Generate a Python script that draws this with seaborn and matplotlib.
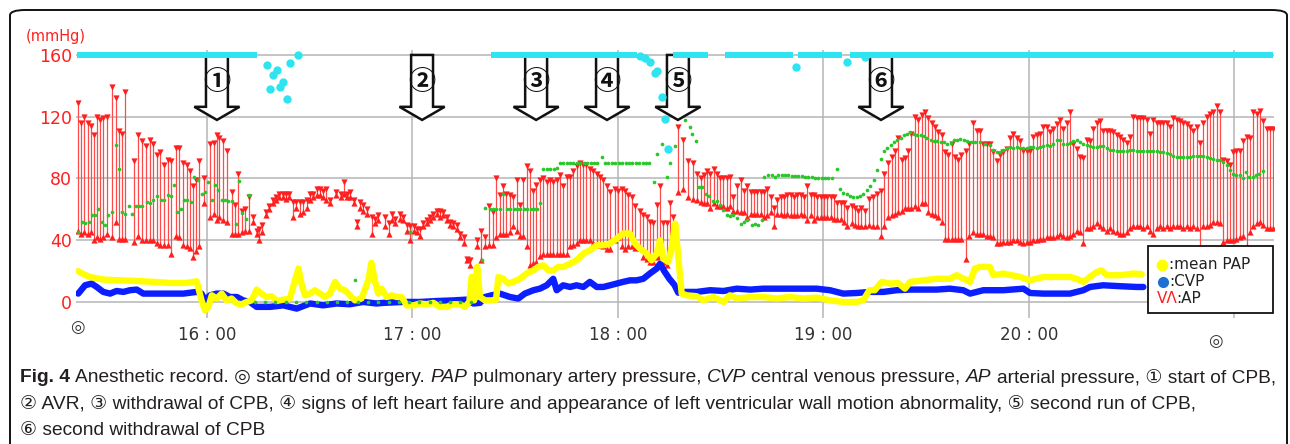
import numpy as np
import pandas as pd
import seaborn as sns
import matplotlib.pyplot as plt
from matplotlib.patches import Polygon, Rectangle, FancyBboxPatch
from matplotlib.lines import Line2D

# time = minutes after 15:00, pressures in mmHg

# AP (arterial pressure): systolic / diastolic
ap_time = [22.4, 23.2, 24.2, 25.2, 26.1, 27.0, 28.0, 28.9, 29.7, 30.7, 32.2, 33.3, 34.3, 35.3, 36.1,
           38.8, 39.9, 40.9, 42.2, 43.4, 44.3, 45.3, 46.3, 47.5, 48.5, 49.5, 50.9, 51.9, 53.1, 54.1, 55.0, 56.0, 56.8, 57.8, 59.0,
           61.0, 62.0, 62.8, 63.6, 64.8, 65.7, 67.2, 68.2, 69.1, 70.1, 71.1, 72.3, 73.3,
           74.5, 75.3, 76.2, 77.2, 78.2, 79.2, 80.1, 81.1, 82.1, 83.0, 84.0, 85.0, 86.0, 87.1, 88.1, 89.1, 90.1, 91.0, 92.0, 93.0,
           93.9, 94.7, 95.9, 97.8, 99.0, 100.0, 100.8, 101.7, 102.9, 103.9, 104.6, 105.6, 106.6, 108.1, 109.0, 110.0,
           112.0, 113.0, 113.9, 114.9, 116.4, 117.3, 118.3, 119.3, 120.3, 121.2, 122.2, 123.2, 124.1, 125.1, 126.1, 127.1,
           128.0, 129.0, 130.0, 131.0, 131.9, 132.9, 133.9, 134.9, 136.0, 136.8,
           138.9, 140.0, 141.2, 142.4, 143.4, 144.4, 145.5, 146.3, 147.3, 148.5, 149.4, 150.4, 151.4, 152.4, 153.3, 154.3,
           155.3, 156.2, 157.2, 158.2, 159.2, 160.1, 161.1, 162.1, 163.1, 164.0, 165.0, 166.0, 167.0, 167.9, 168.9, 169.9,
           170.8, 171.8, 172.8, 173.8, 174.7, 175.7, 176.7, 177.7, 179.1, 180.1, 181.1, 182.0, 183.0, 184.0, 185.0, 186.4,
           187.4, 188.4, 189.3, 190.3, 191.3, 192.3, 193.2, 194.2, 195.2, 196.1,
           197.6, 198.9, 200.3, 201.8, 203.0, 204.1, 205.1, 206.1, 206.9, 207.9, 208.8, 209.8, 210.8, 211.7, 212.7, 213.7,
           214.7, 215.8, 216.8, 217.8, 218.7, 219.7, 220.7, 221.7, 222.6, 223.6, 224.6, 225.6, 226.5, 227.5, 228.5, 229.4,
           230.4, 231.4, 232.4, 233.3, 234.3, 235.3, 236.3, 237.2, 238.2, 239.2, 240.2, 241.1, 242.1, 243.1, 244.0, 245.0,
           246.0, 247.0, 248.2, 249.2, 250.2, 251.1, 252.1, 253.4, 254.4, 255.5, 256.7, 257.8, 258.9, 259.9, 260.9, 261.8,
           262.8, 263.8, 264.8, 265.7, 266.7, 267.7, 268.7, 269.6, 270.6, 271.6, 272.6, 273.5, 274.5, 275.5, 276.4, 277.4,
           278.4, 279.4, 280.3, 281.5, 282.5,
           283.8, 284.7, 285.7, 286.7, 287.7, 288.6, 289.6, 290.6, 291.6, 292.5, 293.5, 294.5, 295.4, 296.4, 297.4, 298.4,
           299.3, 300.3, 301.3, 302.3, 303.2, 304.2, 305.2, 306.2, 307.1, 308.1, 309.1, 310.0, 311.0, 312.0, 313.0, 313.9,
           314.9, 315.9, 316.9, 317.8, 318.8, 319.8, 320.7, 321.7, 322.7, 323.7, 324.6, 325.6, 326.6, 327.6, 328.5, 329.5,
           330.5, 331.5, 332.4, 333.4, 334.4, 335.3, 336.3, 337.3, 338.3, 339.2, 340.2, 341.2, 342.2, 343.1, 344.1, 345.1,
           346.1, 347.0, 348.0, 349.0, 350.0, 350.9, 351.9, 352.8, 353.8, 354.8, 355.8, 356.7, 357.7, 358.7, 359.7, 360.6,
           361.6, 362.6, 363.6, 364.5, 365.5, 366.5, 367.5, 368.4, 369.4, 370.4, 371.3]
ap_sys = [129, 116, 120, 116, 114, 108, 120, 118, 119, 120, 139, 132, 111, 109, 136,
          91, 108, 104, 101, 105, 102, 95, 97, 89, 92, 91, 100, 100, 90, 89, 85, 75, 79, 91, 80,
          102, 103, 108, 106, 104, 98, 71, 63, 83, 59, 60, 68, 55,
          46, 47, 50, 58, 62, 66, 68, 70, 70, 70, 70, 65, 65, 65, 65, 66, 70, 70, 73, 73,
          72, 73, 66, 71, 70, 78, 70, 71, 66, 52, 65, 63, 60, 55, 54, 56,
          55, 51, 57, 54, 57, 55, 50, 49, 49, 47, 47, 51, 53, 55, 57, 59,
          59, 58, 55, 52, 51, 50, 44, 42, 28, 27,
          40, 46, 42, 62, 58, 80, 69, 75, 70, 69, 68, 79, 63, 79, 88, 85,
          72, 76, 79, 80, 78, 79, 78, 79, 82, 75, 81, 81, 85, 88, 90, 89,
          89, 86, 85, 83, 81, 79, 75, 71, 73, 72, 73, 72, 69, 68, 62, 59,
          56, 55, 52, 51, 63, 75, 51, 51, 64, 55,
          113, 105, 91, 90, 83, 80, 82, 85, 83, 86, 83, 80, 80, 80, 81, 68,
          75, 79, 72, 75, 71, 71, 71, 71, 71, 73, 68, 61, 66, 68, 68, 69,
          69, 68, 69, 69, 68, 75, 69, 69, 68, 68, 68, 68, 68, 68, 64, 64,
          64, 61, 62, 61, 59, 61, 59, 67, 68, 70, 72, 83, 90, 94, 98, 106,
          92, 93, 98, 109, 120, 118, 121, 123, 119, 116, 113, 110, 108, 97, 95, 102,
          94, 92, 95, 98, 102,
          116, 111, 111, 102, 102, 102, 97, 91, 95, 97, 99, 106, 109, 106, 104, 98,
          98, 98, 107, 108, 109, 113, 113, 110, 112, 115, 118, 112, 116, 123, 102, 99,
          94, 93, 105, 104, 112, 116, 117, 111, 111, 111, 110, 108, 107, 105, 103, 107,
          120, 119, 119, 119, 118, 109, 118, 116, 116, 116, 116, 113, 119, 118, 117, 116,
          115, 113, 111, 113, 103, 116, 120, 122, 123, 127, 123, 92, 91, 89, 97, 98,
          98, 104, 107, 106, 123, 122, 124, 117, 112, 112, 112]
ap_dia = [46, 44, 45, 44, 45, 40, 42, 41, 42, 44, 42, 52, 41, 41, 41,
          39, 43, 40, 40, 40, 40, 38, 37, 37, 37, 31, 43, 42, 37, 36, 35, 29, 33, 36, 64,
          55, 57, 53, 55, 53, 52, 44, 44, 44, 45, 46, 46, 52,
          44, 40, 45, 56, 60, 64, 66, 68, 68, 67, 68, 55, 61, 57, 58, 61, 66, 68, 69, 69,
          68, 66, 64, 69, 68, 70, 68, 68, 64, 49, 61, 59, 57, 44, 51, 53,
          49, 44, 53, 51, 54, 53, 46, 40, 46, 45, 43, 49, 51, 53, 55, 57,
          55, 56, 53, 50, 49, 47, 42, 38, 27, 24,
          36, 27, 36, 37, 37, 42, 44, 44, 44, 45, 49, 46, 43, 43, 36, 24,
          25, 26, 30, 31, 31, 31, 31, 31, 31, 31, 31, 36, 37, 38, 40, 40,
          40, 40, 38, 38, 37, 36, 34, 34, 40, 42, 36, 34, 36, 36, 35, 35,
          29, 28, 26, 26, 29, 30, 26, 24, 34, 36,
          71, 73, 68, 67, 66, 65, 64, 64, 61, 64, 62, 62, 62, 61, 62, 59,
          59, 58, 58, 55, 57, 57, 57, 57, 55, 56, 58, 49, 57, 57, 56, 57,
          56, 56, 56, 57, 56, 53, 56, 53, 55, 55, 55, 55, 55, 54, 54, 54,
          52, 49, 51, 50, 49, 49, 49, 50, 49, 49, 43, 49, 55, 56, 57, 58,
          59, 61, 61, 61, 62, 61, 64, 64, 58, 57, 56, 55, 52, 41, 41, 41,
          41, 41, 41, 28, 43,
          45, 44, 44, 44, 43, 43, 42, 38, 38, 39, 39, 39, 40, 40, 39, 38,
          39, 39, 40, 40, 41, 41, 42, 42, 42, 43, 44, 43, 42, 43, 44, 46,
          45, 38, 48, 48, 49, 51, 49, 48, 46, 48, 46, 45, 44, 44, 45, 48,
          49, 49, 49, 48, 49, 46, 44, 48, 49, 48, 49, 48, 49, 49, 49, 48,
          49, 48, 49, 48, 31, 49, 49, 50, 52, 52, 51, 39, 40, 40, 40, 41,
          42, 43, 36, 45, 49, 51, 52, 50, 48, 48, 48]

# green dots
gr_time = [22.4, 23.4, 24.4, 25.4, 26.3, 27.3, 28.3, 29.2, 30.2, 31.2, 32.2, 33.3, 34.3, 35.3, 36.2, 37.2,
           38.2, 39.2, 40.1, 41.1, 42.4, 43.4, 44.3, 45.3, 46.5, 47.5, 48.5, 49.5, 50.4, 51.3, 52.4, 53.4,
           54.3, 55.3, 56.3, 57.3, 58.4, 59.4, 60.4, 61.4, 62.3, 63.3, 64.3, 65.2, 66.2, 67.2, 68.4, 69.3,
           70.3, 71.3, 72.2,
           74, 77, 80, 83, 86, 89, 92, 95, 98, 101, 103.2, 104, 107, 110, 113, 116, 119, 119.3, 122, 125,
           128, 131, 134, 137,
           140.2, 141.2, 142.5, 143.5, 144.5, 145.5, 146.5, 147.5, 148.5, 149.5, 150.5, 151.5, 152.5, 153.5,
           154.5, 155.5, 156.5, 157.2, 158.2, 159.2, 160.2, 161.2, 162.1, 163.0, 164.0, 165.0, 166.0, 167.0,
           168.0, 169.0, 170.0, 171.0, 172.0, 173.0, 174.0, 175.4, 176.2, 177.2, 178.2, 179.2, 180.2, 181.2,
           182.2, 183.2, 184.2, 185.2, 186.2, 187.2, 188.2, 189.2, 190.5, 191.5, 192.8, 194.2, 195.2, 196.6,
           199.6, 201.1, 201.6, 202.8, 203.8, 204.5, 205.7, 206.7, 207.8, 208.8, 209.8, 210.8, 211.7, 212.7,
           213.7, 214.7, 215.8, 216.8, 217.8, 219.0, 220.0, 221.0, 222.0, 222.7, 223.9, 224.9, 225.9, 226.8,
           227.8, 228.8, 229.7, 230.7, 231.7, 232.7, 233.6, 234.6, 235.6, 236.6, 237.5, 238.5, 239.5, 240.4,
           241.4, 242.4, 243.9, 244.8, 245.8, 246.8, 247.7, 248.7, 249.7, 250.7, 251.6, 252.6, 253.6, 254.7,
           255.7, 256.7, 257.7, 258.6, 259.6, 260.6, 261.6, 262.5, 263.5, 264.5, 265.4, 266.4, 267.4, 268.4,
           269.3, 270.3, 271.3, 272.3, 273.2, 274.2, 275.2, 276.2, 277.1, 278.1, 279.1, 280.0, 281.0, 282.0,
           283.0, 284.2, 285.7, 287.2, 288.6, 289.6, 290.6, 291.6, 292.5, 293.5, 294.5, 295.4, 296.4, 297.4,
           298.4, 299.3, 300.3, 301.3, 302.3, 303.2, 304.2, 305.2, 306.2, 307.1, 308.1, 309.1, 310.0, 311.0,
           312.0, 313.0, 313.9, 314.9, 315.9, 316.9, 317.8, 318.8, 319.8, 320.7, 321.7, 322.7, 323.7, 324.6,
           325.6, 326.6, 327.6, 328.5, 329.5, 330.5, 331.5, 332.4, 333.4, 334.4, 335.3, 336.3, 337.3, 338.3,
           339.2, 340.2, 341.2, 342.2, 343.1, 344.1, 345.1, 346.1, 347.0, 348.0, 349.0, 350.0, 350.9, 351.9,
           352.8, 353.8, 354.8, 355.8, 356.7, 357.7, 358.7, 359.7, 360.6, 361.6, 362.4, 363.4, 364.3, 365.3,
           366.3, 367.3, 368.2]
gr_val = [45, 52, 51, 52, 56, 56, 60.5, 52, 50, 56, 58, 101.5, 86.4, 58, 57, 62,
          57, 62, 62, 62, 65, 64, 66, 68.5, 66, 66, 69, 68.7, 75.6, 58, 60.5, 66,
          66, 65, 81, 79, 70, 71, 77.8, 66, 75.6, 72.4, 66, 66, 65.4, 65.4, 50.3, 78.4,
          57.7, 54, 69,
          0, 0, 0, 0, 0, 0, 0, 0, 0, 0, 14, 0, 0, 0, 0, 0, 0, 45.4, 0, 0,
          0, 0, 0, 0,
          27, 61, 60, 60, 60, 60, 70, 60, 60, 60, 60, 60, 60, 60,
          60, 60, 60, 64, 86, 86, 86, 86, 87, 90, 90, 90, 90, 90,
          90, 90, 90, 90, 90, 90, 90, 94, 90, 90, 90, 90, 90, 90,
          90, 90, 90, 90, 90, 90, 90, 90, 78, 96, 102, 81, 90, 101,
          118, 113, 109, 104, 74.5, 74.5, 70, 68.5, 65.4, 65.4, 62.6, 59.4, 56, 55.5,
          56, 54.6, 50.3, 51.8, 53, 49.7, 50.3, 49.7, 53.3, 81, 82, 82, 81, 82,
          82.5, 82.5, 82.5, 81.6, 81.6, 81.6, 81.4, 81, 81, 81, 80.6, 80, 80, 80,
          80, 80, 86.4, 73.4, 70.8, 69.8, 68.7, 68, 68, 68.5, 70, 72.4, 75, 78.8,
          85.7, 92.9, 97.6, 100, 101.5, 103.7, 104.8, 106.5, 108, 109, 110, 109, 108.4, 108.4,
          107.3, 106.5, 105.2, 104.3, 104.3, 103.7, 103.7, 102.6, 103, 104.8, 105.2, 105.4, 105.2, 104.1,
          103.7, 103.7, 103.7, 102.6, 101.5, 98.3, 97.2, 97.2, 98.3, 99.4, 100.4, 99.4, 100.4, 99.8,
          99.4, 99.4, 100.4, 100.4, 99.4, 100.4, 100.9, 101.5, 100.9, 102.6, 104.8, 105.2, 102.6, 102.6,
          103, 104.3, 104.8, 103.7, 102.6, 101.5, 100.9, 100.4, 100.4, 100.9, 100.9, 99.4, 98.7, 98.3,
          97.8, 97.8, 97.8, 97.8, 98.3, 98.3, 97.8, 97.6, 97.6, 97.6, 97.6, 97.6, 97.6, 97.2,
          97.2, 96.5, 96.1, 94.4, 94, 94, 94, 94, 94, 94.4, 94.4, 94.4, 94.4, 94,
          93.5, 92.9, 91.8, 91.8, 90.7, 88.6, 85.3, 82.7, 82, 82, 80.6, 84.2, 81, 81,
          82, 83.2, 84.9]

# mean PAP (yellow)
pap_time = [22.4, 23.9, 25.8, 29.7, 34.6, 39.5, 44.3, 49.2, 54.1, 57.0, 58.4, 59.4, 60.4, 61.4, 62.8, 64.3,
            65.7, 67.2, 68.7, 70.1, 71.6, 73.0, 74.5, 75.9, 77.4, 78.9, 80.3, 82.3, 84.2, 85.7, 86.7, 87.6,
            88.6, 90.1, 91.5, 93.0, 94.4, 95.9, 97.4, 98.8, 100.3, 101.7, 103.2, 105.1, 107.1, 108.0, 109.0, 110.0,
            111.0, 112.5, 113.9, 115.4, 116.8, 118.3, 120.3, 122.2, 124.1, 126.1, 128.0, 130.0, 131.9, 133.9, 135.3, 136.6,
            137.3, 138.0, 138.9, 139.7, 141.2, 143.1, 144.4, 145.1, 146.5, 148.0, 149.4, 151.4, 153.3, 155.3, 156.7, 158.2,
            159.7, 161.1, 162.6, 164.0, 166.0, 167.9, 169.9, 171.8, 173.8, 175.7, 177.7, 179.6, 181.5, 183.5, 185.0, 186.4,
            188.4, 189.8, 191.3, 192.3, 193.2, 194.7, 195.7, 196.7, 197.6, 198.6, 200.1, 203.0, 204.9, 207.8, 210.8, 212.7,
            214.7, 218.6, 222.4, 226.3, 230.2, 234.1, 238.0, 241.9, 245.8, 249.7, 251.6, 253.4, 255.0, 257.0, 259.4, 261.8,
            263.8, 265.3, 269.1, 273.0, 276.9, 278.9, 282.8, 284.2, 285.7, 288.6, 289.6, 292.5, 297.4, 300.3, 304.2, 308.1,
            312.0, 313.9, 315.9, 317.8, 319.8, 321.2, 322.7, 326.6, 330.5, 332.9]
pap_val = [20, 18, 16.2, 14.5, 14, 13.6, 13, 12.3, 12.3, 13.4, 1, -5.4, -3.2, 4.3, 2.2, 5.4,
           1, 2.2, -1, -1.5, 0, 1, 8, 5.4, 3.2, 3.7, 0.6, 1.5, 2.2, 14, 21.6, 11.9,
           4.3, 5.4, 7.6, 5.4, 3.2, 5.4, 13, 8.6, 7.6, 4.3, 1, 2.2, 14, 25.3, 14, 5.4,
           8.6, 3.2, 4.3, 3.2, 3.2, -2.2, -2.2, -1, -1.5, -0.6, -3.2, -3.2, -1.5, -1.5, -3.2, 0,
           16.2, 1, 22.7, 3.2, 1, 1, 1.5, 16.2, 15, 11.9, 13, 15, 18.4, 20.5, 22.7, 23.8,
           20.5, 20.5, 22.7, 22.7, 24.8, 27, 31.3, 33.5, 36.7, 36.7, 37.8, 41, 44.3, 44.3, 37.8, 34.6,
           31.3, 27, 31.3, 40, 28, 26, 35.6, 50.8, 29, 5.4, 4.3, 3.7, 1, 3.2, 0, 4.3,
           2.2, 3.2, 3.2, 2.2, 3.2, 2.2, 2.8, 1, 0, 0, 1, 7.6, 7.6, 13, 11.9, 12.3,
           8.6, 13, 14, 15, 15, 17.3, 13, 21.6, 22.7, 22.7, 17.3, 18.4, 16.2, 14, 16.2, 16.2,
           16.2, 15, 13, 16.2, 19.4, 20.5, 17.3, 17.3, 18.4, 18]

# CVP (blue)
cvp_time = [22.4, 24.4, 26.3, 27.8, 29.7, 31.7, 33.6, 35.6, 37.5, 39.5, 41.4, 45.3, 49.2, 53.1, 57.0, 58.4,
            59.4, 60.9, 62.8, 64.8, 66.7, 68.7, 70.6, 72.5, 74.5, 78.4, 82.3, 86.2, 90.1, 93.9, 97.8, 101.7,
            105.6, 109.5, 111.5, 117.3, 122.2, 127.1, 131.9, 135.8, 137.8, 139.7, 141.2, 143.1, 145.5, 148.5,
            150.9, 152.8, 155.3, 157.2, 159.2, 161.1, 162.1, 164.0, 166.0, 167.9, 169.9, 171.8, 173.8, 175.7,
            177.7, 179.6, 181.5, 183.5, 185.4, 187.4, 189.3, 191.3, 192.3, 193.5, 195.0, 196.5, 197.6, 199.6,
            203.0, 206.9, 210.8, 214.7, 218.6, 222.4, 226.3, 230.2, 234.1, 238.0, 241.9, 245.8, 249.7, 253.6,
            257.5, 261.4, 265.3, 269.1, 273.0, 276.9, 280.8, 282.8, 286.7, 292.5, 298.4, 300.3, 304.2, 308.1,
            312.0, 315.9, 317.8, 321.7, 326.6, 331.5, 333.4]
cvp_val = [5.4, 10.8, 11.9, 9.7, 6.5, 5.4, 7.1, 6.5, 7.6, 8, 5.4, 5.4, 5.4, 5.4, 6.5, 5.4,
           1, 4.3, 5.4, 5.4, 3.2, 3.2, 1, 0, -3.2, -3.2, -2.2, -4.3, -1, -2.2, -1, -1.5,
           0, -1, -0.6, 0, 0, 0.6, 1, 1.5, -1, -0.6, 3.2, 4.3, 5.4, 3.2,
           2.2, 5.4, 7.6, 8.6, 10.8, 15, 7.6, 10.8, 9.7, 10.8, 9.7, 13, 9.7, 9.7,
           10.8, 11.9, 13, 14, 14, 15, 18.4, 21.6, 24.8, 20, 15, 11, 6, 6.5,
           6.5, 7.6, 7.1, 8.6, 8, 8.6, 8.6, 8.6, 8.6, 8.6, 7.6, 5.4, 5.8, 6.5,
           6.5, 7.6, 8, 8, 8, 8.6, 7.6, 5.4, 7.6, 7.6, 8.6, 5.8, 5.4, 5.4,
           5.4, 7.6, 9.7, 10.8, 10.2, 9.7, 9.7]

# cyan trace: stretches pinned at the 160 ceiling, plus the scattered points
cyan_start = [22.0, 142.9, 196.1, 211.3, 232.6, 247.8]
cyan_end = [74.6, 185.6, 206.3, 231.1, 245.4, 371.3]
cyan_top = 160
cyan_time = [77.5, 80.4, 79.3, 84.2, 82.2, 81.3, 78.4, 83.4, 86.6, 186.4, 187.9, 189.4, 190.8, 191.4,
             192.9, 193.7, 194.6, 232.0, 246.9, 252.1]
cyan_val = [153.5, 150.3, 147, 154.8, 142.5, 139.2, 138, 131.5, 160, 159, 158, 155.5, 148, 149.6,
            133, 118.5, 99, 152, 155.5, 158.8]

# events (arrows)
event_time = [62.9, 122.8, 156.1, 176.8, 197.5, 256.8]
event_label = ['①', '②', '③', '④', '⑤', '⑥']

hour_ticks = [60, 120, 180, 240, 300, 360]
hour_labels = ['16 : 00', '17 : 00', '18 : 00', '19 : 00', '20 : 00', '']
y_ticks = [0, 40, 80, 120, 160]

W, H = 1290, 444
def fx(x):
    return x / W
def fy(y):
    return 1 - y / H

sns.set_style('white')
plt.rcParams['font.family'] = ['DejaVu Sans', 'Noto Sans CJK JP']
sym_fonts = ['DejaVu Sans', 'Noto Sans CJK JP']

RED = '#ff1f1f'
fig = plt.figure(figsize=(W / 100, H / 100), dpi=100)
ax = fig.add_axes([fx(76), fy(318), 1198 / W, 268 / H])

# AP bars
ax.vlines(ap_time, ap_dia, ap_sys, color='#ff4a4a', lw=0.9, zorder=2)
sns.scatterplot(x=ap_time, y=ap_sys, marker='v', s=20, color=RED, linewidth=0, ax=ax, zorder=3)
sns.scatterplot(x=ap_time, y=ap_dia, marker='^', s=20, color=RED, linewidth=0, ax=ax, zorder=3)

# CVP and PAP
sns.lineplot(x=cvp_time, y=cvp_val, color='#0a1eff', lw=4.6, sort=False, estimator=None, ax=ax, zorder=4)
sns.lineplot(x=pap_time, y=pap_val, color='#ffff00', lw=4.6, sort=False, estimator=None, ax=ax, zorder=5)

# green dots
sns.scatterplot(x=gr_time, y=gr_val, s=7, color='#28c828', linewidth=0, ax=ax, zorder=6)

# arrows
for t, lab in zip(event_time, event_label):
    hs, hh = 3.2, 6.6
    pts = [(t - hs, 160), (t + hs, 160), (t + hs, 126.4), (t + hh, 126.4), (t, 117.9),
           (t - hh, 126.4), (t - hs, 126.4)]
    ax.add_patch(Polygon(pts, closed=True, facecolor='white', edgecolor='#111111', lw=1.8, zorder=7))
    ax.text(t, 142.3, lab, ha='center', va='center', fontsize=19.5, fontweight='bold',
            family=['Noto Sans CJK JP', 'DejaVu Sans'], color='#111111', zorder=8)

# cyan trace
ax.hlines([cyan_top] * len(cyan_start), cyan_start, cyan_end, color='#2ee4f0', lw=4.3, zorder=9)
sns.scatterplot(x=cyan_time, y=cyan_val, s=36, color='#2ee4f0', linewidth=0, ax=ax, zorder=9)

ax.set_xlim(21.75, 371.55)
ax.set_ylim(-10.4, 163.2)
ax.set_xticks(hour_ticks)
ax.set_xticklabels(hour_labels)
ax.set_yticks(y_ticks)
ax.set_yticklabels([str(v) for v in y_ticks])
ax.tick_params(axis='x', length=0, pad=6, labelsize=12, labelcolor='#333333')
ax.tick_params(axis='y', length=0, pad=3, labelsize=12.5, labelcolor=RED)
ax.grid(True, color='#b5b5b5', lw=1.1)
ax.set_axisbelow(True)
for s in ax.spines.values():
    s.set_visible(False)
ax.set_xlabel('')
ax.set_ylabel('')

fig.text(fx(56), fy(36), '(mmHg)', color=RED, fontsize=10.5, ha='center', va='center')
fig.text(fx(77), fy(327), '◎', fontsize=12, ha='center', va='center', family=sym_fonts, color='#333333')
fig.text(fx(1215), fy(341), '◎', fontsize=12, ha='center', va='center', family=sym_fonts, color='#333333')

# legend box
fig.add_artist(Rectangle((fx(1148), fy(313)), 125 / W, 67 / H, transform=fig.transFigure,
                         facecolor='white', edgecolor='#111111', lw=1.3, zorder=10))
fig.add_artist(Line2D([fx(1162)], [fy(264.5)], marker='o', ms=7.5, color='#ffff00', lw=0,
                      transform=fig.transFigure, zorder=11))
fig.add_artist(Line2D([fx(1163)], [fy(282)], marker='o', ms=7, color='#1f6fd0', lw=0,
                      transform=fig.transFigure, zorder=11))
fig.text(fx(1169), fy(264.5), ':mean PAP', fontsize=11, va='center', color='#222222', zorder=11)
fig.text(fx(1169), fy(282), ':CVP', fontsize=11, va='center', color='#222222', zorder=11)
fig.text(fx(1157), fy(298), 'VΛ', fontsize=11, va='center', color=RED, zorder=11)
fig.text(fx(1176), fy(298), ':AP', fontsize=11, va='center', color='#222222', zorder=11)

# outer frame
fig.add_artist(FancyBboxPatch((fx(10), fy(460)), 1277 / W, 450 / H, transform=fig.transFigure,
                              boxstyle='round,pad=0,rounding_size=0.012', facecolor='none',
                              edgecolor='#111111', lw=1.4, zorder=12))

# caption
cap_fonts = ['Liberation Sans', 'DejaVu Sans', 'Noto Sans CJK JP']
cap_lines = [
    [('Fig. 4', 'bold', 'normal'), ('Anesthetic record. ◎ start/end of surgery.', 'normal', 'normal'),
     ('PAP', 'normal', 'italic'), ('pulmonary artery pressure,', 'normal', 'normal'),
     ('CVP', 'normal', 'italic'), ('central venous pressure,', 'normal', 'normal'),
     ('AP', 'normal', 'italic'), ('arterial pressure, ① start of CPB,', 'normal', 'normal')],
    [('② AVR, ③ withdrawal of CPB, ④ signs of left heart failure and appearance of left ventricular '
      'wall motion abnormality, ⑤ second run of CPB,', 'normal', 'normal')],
    [('⑥ second withdrawal of CPB', 'normal', 'normal')],
]
cap_y = [378, 404, 430]
renderer = fig.canvas.get_renderer()

def put_line(runs, x0, y, size):
    t1 = fig.text(0, 0, 'a a', fontsize=size, family=cap_fonts)
    t2 = fig.text(0, 0, 'aa', fontsize=size, family=cap_fonts)
    sp = t1.get_window_extent(renderer).width - t2.get_window_extent(renderer).width
    t1.remove()
    t2.remove()
    x = x0
    objs = []
    for s, wt, st in runs:
        t = fig.text(fx(x), fy(y), s, fontsize=size, fontweight=wt, fontstyle=st,
                     family=cap_fonts, va='center', ha='left', color='#231f20')
        objs.append(t)
        x += t.get_window_extent(renderer).width + sp
    return objs, x - sp - x0

objs, w = put_line(cap_lines[0], 20, cap_y[0], 11)
for o in objs:
    o.remove()
cap_size = 11 * 1258 / w
for runs, y in zip(cap_lines, cap_y):
    put_line(runs, 20, y, cap_size)

fig.savefig('out.png', dpi=100)
